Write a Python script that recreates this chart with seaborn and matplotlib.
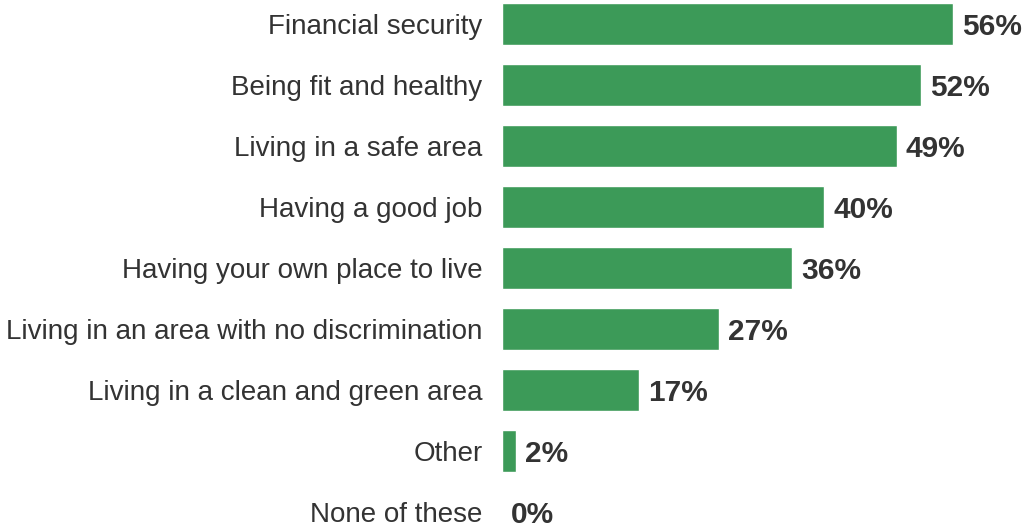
import numpy as np
import pandas as pd
import seaborn as sns
import matplotlib.pyplot as plt

# survey answers
categories = ["Financial security", "Being fit and healthy", "Living in a safe area",
              "Having a good job", "Having your own place to live",
              "Living in an area with no discrimination", "Living in a clean and green area",
              "Other", "None of these"]
values = [56, 52, 49, 40, 36, 27, 17, 1.75, 0]
value_labels = ["56%", "52%", "49%", "40%", "36%", "27%", "17%", "2%", "0%"]

df = pd.DataFrame({"category": categories, "value": values})

sns.set_style("white")
plt.rcParams['font.family'] = ['Liberation Sans', 'DejaVu Sans']

fig = plt.figure(figsize=(10.27, 5.26), dpi=100)
ax = fig.add_axes([502 / 1027, 0, 1 - 502 / 1027, 1])

sns.barplot(data=df, x="value", y="category", orient="h", color="#3c9a58",
            saturation=1, width=0.69, ax=ax)

texts = ax.bar_label(ax.containers[0], labels=value_labels, padding=6.5,
                     fontsize=21.5, fontweight="bold", color="#333333")
for t in texts:
    t.set_verticalalignment("center_baseline")

ax.set_xlim(0, 65.2)
ax.set_ylim(8 + 14 / 61, -24 / 61)
ax.set_xlabel("")
ax.set_ylabel("")
ax.set_xticks([])
ax.tick_params(axis="y", left=False, pad=10.5, labelsize=20, labelcolor="#333333")
sns.despine(ax=ax, left=True, bottom=True)

plt.savefig("out.png", dpi=100)
